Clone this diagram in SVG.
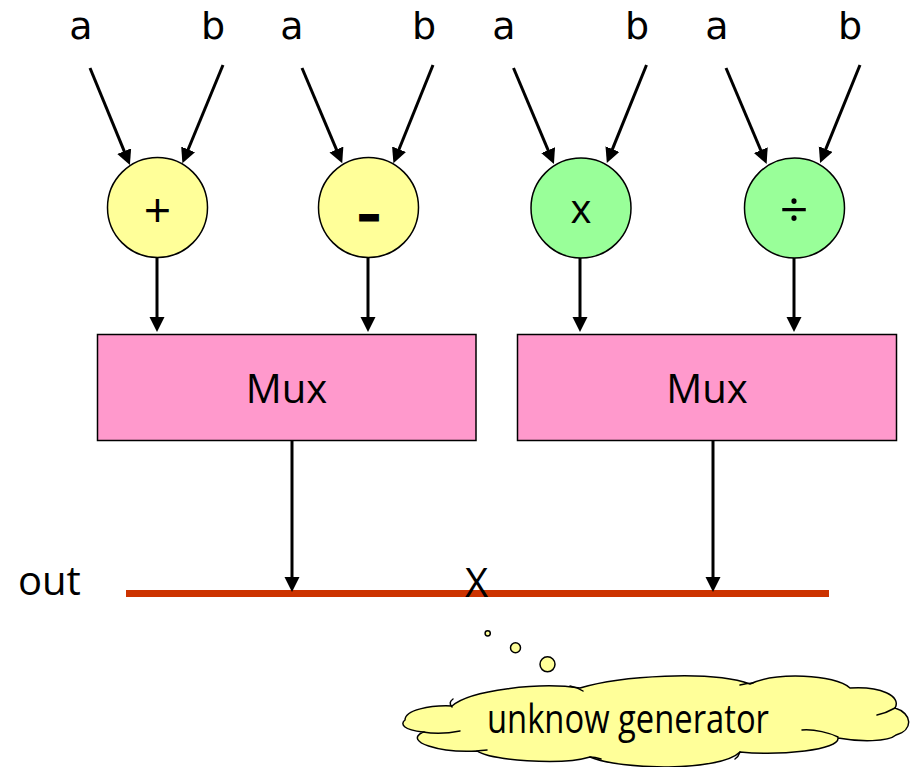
<svg xmlns="http://www.w3.org/2000/svg" width="912" height="767" viewBox="0 0 912 767">
  <style>
    text { font-family: "Open Sans", "DejaVu Sans", sans-serif; fill: #000; }
    .lbl { font-size: 40px; text-anchor: middle; }
    .in { font-family: "DejaVu Sans", "Open Sans", sans-serif; font-size: 38px; text-anchor: middle; }
    .op { stroke: #000; stroke-width: 1.5; }
    .yellow { fill: #FFFF99; }
    .green { fill: #99FF99; }
    .mux { fill: #FF99CC; stroke: #000; stroke-width: 1.5; }
    .wire { stroke: #000; stroke-width: 3; fill: none; marker-end: url(#arrow); }
    .bus { stroke: #CC3300; stroke-width: 7; }
    .cloud { fill: #FFFF99; stroke: #000; stroke-width: 1.5; }
    .crease { fill: none; stroke: #000; stroke-width: 1.5; stroke-linecap: round; }
  </style>
  <defs>
    <marker id="arrow" markerUnits="userSpaceOnUse" markerWidth="16" markerHeight="16" refX="10" refY="7.5" orient="auto">
      <path d="M0,0 L15,7.5 L0,15 Z" fill="#000"/>
    </marker>
  </defs>

  <!-- operand labels -->
  <g id="inputs">
    <text class="in" x="81" y="39">a</text>
    <text class="in" x="213" y="39">b</text>
    <text class="in" x="292" y="39">a</text>
    <text class="in" x="424" y="39">b</text>
    <text class="in" x="504" y="39">a</text>
    <text class="in" x="637" y="39">b</text>
    <text class="in" x="717" y="39">a</text>
    <text class="in" x="850" y="39">b</text>
  </g>

  <!-- arithmetic units -->
  <g id="add">
    <circle class="op yellow" cx="157.5" cy="207.5" r="50"/>
    <text x="157.5" y="227" font-size="48" text-anchor="middle">+</text>
  </g>
  <g id="sub">
    <circle class="op yellow" cx="368.5" cy="207.5" r="50"/>
    <text x="369" y="228" font-size="40" font-weight="700" text-anchor="middle" stroke="#000" stroke-width="3">–</text>
  </g>
  <g id="mul">
    <circle class="op green" cx="581" cy="208" r="50"/>
    <text x="581" y="222.5" font-size="40" text-anchor="middle">x</text>
  </g>
  <g id="div">
    <circle class="op green" cx="794.5" cy="208" r="50"/>
    <text x="794" y="227" font-size="50" text-anchor="middle">÷</text>
  </g>

  <!-- multiplexers -->
  <g id="mux1">
    <rect class="mux" x="97.5" y="334.5" width="378.5" height="106"/>
    <text class="lbl" x="286.5" y="403">Mux</text>
  </g>
  <g id="mux2">
    <rect class="mux" x="517.5" y="334.5" width="379" height="106"/>
    <text class="lbl" x="707" y="403">Mux</text>
  </g>

  <!-- output bus -->
  <g id="out">
    <text x="18" y="595" font-size="40">out</text>
    <line class="bus" x1="126" y1="593.5" x2="829" y2="593.5"/>
  </g>

  <!-- connectors -->
  <g id="connectors">
    <line class="wire" x1="90" y1="68" x2="128" y2="160.4"/>
    <line class="wire" x1="223" y1="65" x2="184.3" y2="158.7"/>
    <line class="wire" x1="302" y1="68" x2="340.3" y2="158.7"/>
    <line class="wire" x1="433" y1="65" x2="395.3" y2="158.5"/>
    <line class="wire" x1="513.5" y1="68" x2="552" y2="159.4"/>
    <line class="wire" x1="646.5" y1="65" x2="608.7" y2="158.4"/>
    <line class="wire" x1="726" y1="68" x2="764.7" y2="159.4"/>
    <line class="wire" x1="860" y1="65" x2="822" y2="158.4"/>

    <line class="wire" x1="157" y1="258" x2="157" y2="327"/>
    <line class="wire" x1="368" y1="258" x2="368" y2="327"/>
    <line class="wire" x1="580" y1="258" x2="580" y2="327"/>
    <line class="wire" x1="794" y1="258" x2="794" y2="327"/>

    <line class="wire" x1="292" y1="441" x2="292" y2="587"/>
    <line class="wire" x1="713" y1="441" x2="713" y2="587"/>
  </g>

  <!-- contention mark on the bus -->
  <g id="conflict">
    <text x="476.5" y="597" font-size="40" text-anchor="middle">X</text>
  </g>

  <!-- thought cloud -->
  <g id="generator">
    <circle class="cloud" cx="487.7" cy="633.3" r="2.6"/>
    <circle class="cloud" cx="515.5" cy="647.7" r="5"/>
    <circle class="cloud" cx="547.5" cy="664.3" r="7.5"/>
    <path class="cloud" d="M405,720 C405,710 430,705 452,706 C470,690 540,682 580,688 C620,676 710,670 750,684 C775,672 835,674 850,688 C880,686 902,696 895,708 C912,713 914,730 896,735 C888,742 860,742 838,738 C840,750 780,756 740,752 C720,772 620,770 590,757 C560,766 490,760 477,751 C440,753 403,742 423,732 C403,730 400,724 405,720 Z"/>
    <path class="crease" d="M423,732 C435,734 450,733 460,731"/>
    <path class="crease" d="M452,707 C449,704 450,701 453,699"/>
    <path class="crease" d="M570,686 C576,687 580,689 583,691"/>
    <path class="crease" d="M740,685 C745,684 749,683 753,683"/>
    <path class="crease" d="M895,708 C888,712 882,714 877,715"/>
    <path class="crease" d="M802,730 C815,729 830,733 838,737"/>
    <path class="crease" d="M740,752 C739,755 738,757 735,759"/>
    <path class="crease" d="M590,757 C594,757 598,758 601,759"/>
    <path class="crease" d="M477,751 C480,751 483,750 487,750"/>
    <text x="628" y="733" font-size="40" text-anchor="middle" textLength="282" lengthAdjust="spacingAndGlyphs">unknow generator</text>
  </g>
</svg>
